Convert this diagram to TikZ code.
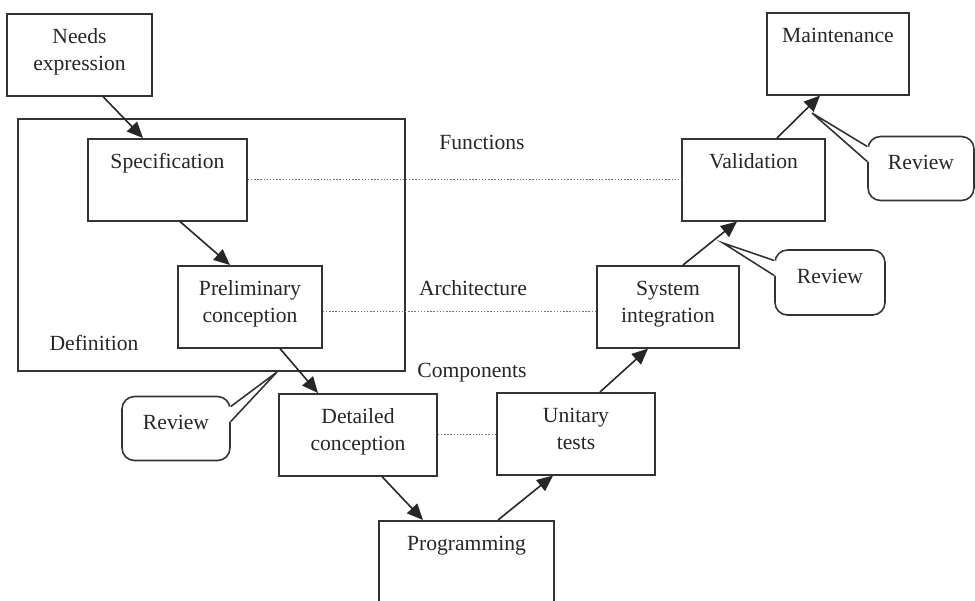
\documentclass[tikz,border=0pt]{standalone}
\usepackage{fontspec}
\setmainfont{Liberation Serif}
\usetikzlibrary{arrows.meta,calc}

\begin{document}
\begin{tikzpicture}[x=0.02cm, y=-0.02cm, font=\fontsize{12.3}{15.3}\selectfont, text=black!85]
  \tikzset{
    phase/.style={draw=black!80, line width=0.9pt, inner sep=0pt, align=center, anchor=north,
      text width=#1, text height=0.6cm, text depth=1.04cm},
    review/.style={draw=black!80, line width=0.9pt, rounded corners=0.25cm, inner sep=0pt,
      minimum width=2.16cm, minimum height=1.28cm, text depth=0.24cm},
    flow/.style={-{Triangle[length=0.32cm, width=0.28cm]}, line width=0.9pt, draw=black!85},
    level/.style={draw=black!55, densely dotted, line width=0.8pt}
  }
  \path[use as bounding box, clip] (0,0) rectangle (975,600);

  % definition frame
  \node[draw=black!80, line width=0.9pt, inner sep=0pt, minimum width=7.74cm, minimum height=5.04cm]
    (defbox) at (211.5,245) {};
  \node[anchor=base] (deflabel) at (94,350) {Definition};

  % V cycle phases
  \node[phase=2.9cm]  (needs)  at (79.5,13)  {Needs\\expression};
  \node[phase=3.18cm] (spec)   at (167.5,138) {Specification};
  \node[phase=2.88cm] (prelim) at (250,265)  {Preliminary\\conception};
  \node[phase=3.16cm] (detail) at (358,393)  {Detailed\\conception};
  \node[phase=3.5cm, text depth=2cm] (prog) at (466.5,520) {Programming};
  \node[phase=3.16cm] (unit)   at (576,392)  {Unitary\\tests};
  \node[phase=2.84cm] (sysint) at (668,265)  {System\\integration};
  \node[phase=2.86cm] (valid)  at (753.5,138) {Validation};
  \node[phase=2.84cm] (maint)  at (838,12)   {Maintenance};

  % levels
  \node[anchor=base] (functions)    at (482,149) {Functions};
  \node[anchor=base] (architecture) at (473,295) {Architecture};
  \node[anchor=base] (components)   at (472,377) {Components};
  \draw[level] (spec.east) -- (spec.east -| valid.west);
  \draw[level] ($(prelim.east)+(0,5)$) -- ($(prelim.east -| sysint.west)+(0,5)$);
  \draw[level] (detail.east) -- (detail.east -| unit.west);

  % flow down and up the V
  \draw[flow] ($(needs.south)+(23.5,0)$)  -- ($(spec.north)+(-24.5,0)$);
  \draw[flow] ($(spec.south)+(12.5,0)$)   -- ($(prelim.north)+(-20,0)$);
  \draw[flow] ($(prelim.south)+(30,0)$)   -- ($(detail.north)+(-40,0)$);
  \draw[flow] ($(detail.south)+(24,0)$)   -- ($(prog.north)+(-43.5,0)$);
  \draw[flow] ($(prog.north)+(31.5,0)$)   -- ($(unit.south)+(-23,0)$);
  \draw[flow] ($(unit.north)+(24,0)$)     -- ($(sysint.south)+(-20,0)$);
  \draw[flow] ($(sysint.north)+(15,0)$)   -- ($(valid.south)+(-16.5,0)$);
  \draw[flow] ($(valid.north)+(23.5,0)$)  -- ($(maint.south)+(-18,0)$);

  % review callouts
  \node[review, minimum width=2.12cm] (rev1) at (921,168.5) {Review};
  \node[review, minimum width=2.2cm, minimum height=1.3cm] (rev2) at (830,282.5) {Review};
  \node[review] (rev3) at (176,428.5) {Review};
  \coordinate (rev1-tip) at (812,113);
  \coordinate (rev2-tip) at (723,243);
  \coordinate (rev3-tip) at (277,372);
  \foreach \r/\s/\d in {rev1/west/2, rev2/west/2, rev3/east/-2} {
    \fill[white] ($(\r.\s)+(0,-22)$) -- (\r-tip) -- ($(\r.\s)+(0,-7)$)
      -- ($(\r.\s)+(\d,-7)$) -- ($(\r.\s)+(\d,-22)$) -- cycle;
    \draw[draw=black!80, line width=0.9pt] ($(\r.\s)+(0,-22)$) -- (\r-tip) -- ($(\r.\s)+(0,-7)$);
  }
\end{tikzpicture}
\end{document}
